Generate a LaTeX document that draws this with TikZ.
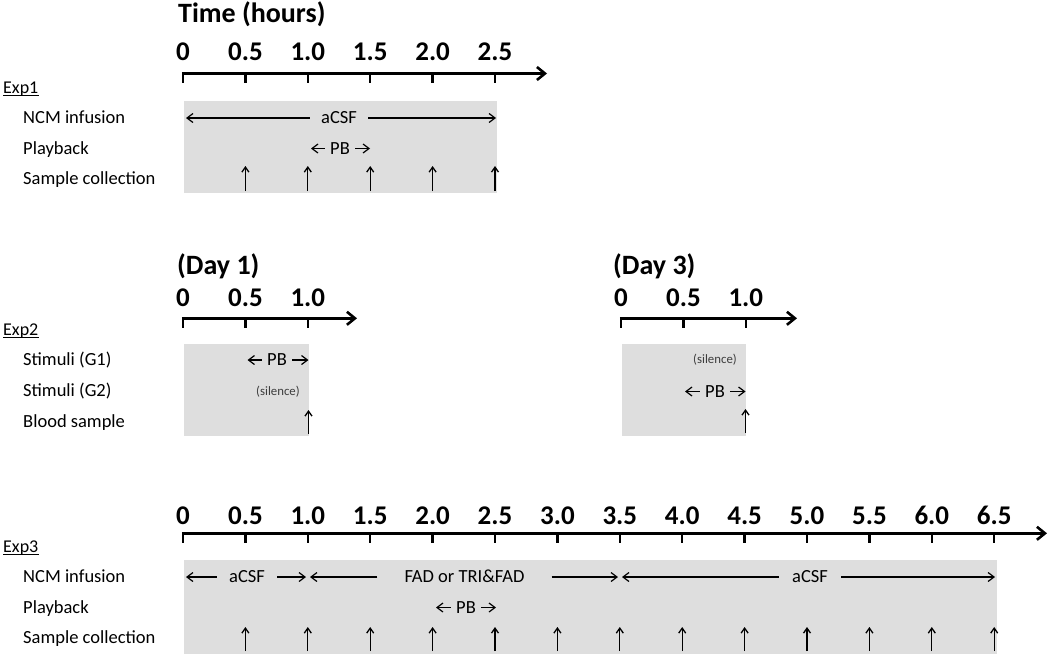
\documentclass[tikz,border=0pt]{standalone}
\usepackage{fontspec}
\setmainfont{Carlito}
\usetikzlibrary{arrows.meta}
\definecolor{boxgray}{RGB}{222,222,222}
\definecolor{silgray}{RGB}{60,60,60}
\tikzset{
  axisline/.style={line width=2.6pt, -{Straight Barb[length=8pt,width=13pt]}},
  tickline/.style={line width=2.4pt},
  thinarr/.style={line width=1.2pt, -{Straight Barb[length=6pt,width=9pt]}},
  samparr/.style={line width=1.3pt, -{Straight Barb[length=5pt,width=7pt]}},
  tbox/.style={fill=boxgray, draw=none, inner sep=0pt, anchor=north west},
  rowlbl/.style={font=\fontsize{18.5}{22}\selectfont, inner sep=0pt, text height=11.9pt, text depth=0pt, anchor=west},
  explbl/.style={font=\fontsize{18}{22}\selectfont, inner sep=0pt, text height=11.6pt, text depth=0pt, anchor=west},
  uline/.style={line width=0.9pt},
  num/.style={font=\fontsize{27}{31}\selectfont\bfseries, inner sep=0pt, text height=17.4pt, text depth=0pt},
  ttl/.style={font=\fontsize{28}{33}\selectfont\bfseries, inner sep=0pt, text height=18pt, text depth=0pt, anchor=west},
  intxt/.style={font=\fontsize{18.5}{22}\selectfont, inner ysep=0pt, text height=11.9pt, text depth=0pt},
  siltxt/.style={font=\fontsize{12.8}{15}\selectfont, text=silgray, inner sep=0pt}
}
\begin{document}
\begin{tikzpicture}[x=1pt,y=-1pt]
\useasboundingbox (0,0) rectangle (1050,656);

% ================= Exp1 =================
\node[ttl] (title) at (178,13.3) {Time (hours)};
\coordinate (e1o) at (181.8,73.5);
\coordinate (e1end) at (547,73.5);
\draw[axisline] (e1o) -- (e1end);
\foreach \t/\l [count=\k] in {0/0,0.5/0.5,1/1.0,1.5/1.5,2/2.0,2.5/2.5} {
  \coordinate (e1t\k) at ({183+124.8*\t},72.5);
  \coordinate (e1b\k) at ({183+124.8*\t},82.5);
  \draw[tickline] (e1t\k) -- (e1b\k);
  \node[num] (e1num\k) at ({183+124.8*\t},51.7) {\l};
}
\node[tbox, minimum width=313pt, minimum height=92pt] (e1box) at (184,101) {};
\node[explbl] (e1lab) at (3,87.5) {Exp1};
\draw[uline] ([yshift=-2.5pt]e1lab.base west) -- ([yshift=-2.5pt]e1lab.base east);
\node[rowlbl] (e1r1) at (23,118) {NCM infusion};
\node[rowlbl] (e1r2) at (23,148.5) {Playback};
\node[rowlbl] (e1r3) at (23,179) {Sample collection};
% NCM infusion
\node[intxt, inner xsep=11pt] (e1acsf) at (339,118) {aCSF};
\coordinate (e1n0) at (186,118);
\coordinate (e1n1) at (496,118);
\draw[thinarr] (e1acsf.west) -- (e1n0);
\draw[thinarr] (e1acsf.east) -- (e1n1);
% Playback
\node[intxt, inner xsep=5pt] (e1pb) at (340,148.5) {PB};
\coordinate (e1p0) at (311,148.5);
\coordinate (e1p1) at (370,148.5);
\draw[thinarr] (e1pb.west) -- (e1p0);
\draw[thinarr] (e1pb.east) -- (e1p1);
% Sample collection
\foreach \t [count=\k] in {0.5,1,1.5,2,2.5} {
  \coordinate (e1s\k) at ({183+124.8*\t},191);
  \coordinate (e1h\k) at ({183+124.8*\t},166);
  \draw[samparr] (e1s\k) -- (e1h\k);
}

% ================= Exp2 =================
\node[explbl] (e2lab) at (3,329.5) {Exp2};
\draw[uline] ([yshift=-2.5pt]e2lab.base west) -- ([yshift=-2.5pt]e2lab.base east);
\node[rowlbl] (e2r1) at (23,360) {Stimuli (G1)};
\node[rowlbl] (e2r2) at (23,391) {Stimuli (G2)};
\node[rowlbl] (e2r3) at (23,421.5) {Blood sample};
% Day 1
\node[ttl] (day1) at (177,265) {(Day 1)};
\coordinate (d1o) at (181.8,318.3);
\coordinate (d1end) at (357,318.3);
\draw[axisline] (d1o) -- (d1end);
\foreach \t/\l [count=\k] in {0/0,0.5/0.5,1/1.0} {
  \coordinate (d1t\k) at ({183+124.8*\t},317.3);
  \coordinate (d1b\k) at ({183+124.8*\t},327.5);
  \draw[tickline] (d1t\k) -- (d1b\k);
  \node[num] (d1num\k) at ({183+124.8*\t},297.5) {\l};
}
\node[tbox, minimum width=125pt, minimum height=92pt] (d1box) at (184,344) {};
\node[intxt, inner xsep=5pt] (d1pb) at (277,360) {PB};
\coordinate (d1p0) at (247.5,360);
\coordinate (d1p1) at (308.5,360);
\draw[thinarr] (d1pb.west) -- (d1p0);
\draw[thinarr] (d1pb.east) -- (d1p1);
\node[siltxt] (d1sil) at (278,391.5) {(silence)};
\coordinate (d1s) at (308.5,434);
\coordinate (d1h) at (308.5,410);
\draw[samparr] (d1s) -- (d1h);
% Day 3
\node[ttl] (day3) at (613,265.5) {(Day 3)};
\coordinate (d3o) at (619.8,318.3);
\coordinate (d3end) at (797,318.3);
\draw[axisline] (d3o) -- (d3end);
\foreach \t/\l [count=\k] in {0/0,0.5/0.5,1/1.0} {
  \coordinate (d3t\k) at ({621+124.8*\t},317.3);
  \coordinate (d3b\k) at ({621+124.8*\t},327.5);
  \draw[tickline] (d3t\k) -- (d3b\k);
  \node[num] (d3num\k) at ({621+124.8*\t},297.5) {\l};
}
\node[tbox, minimum width=124.5pt, minimum height=92pt] (d3box) at (621.5,344) {};
\node[siltxt] (d3sil) at (715,360) {(silence)};
\node[intxt, inner xsep=5pt] (d3pb) at (715,391.5) {PB};
\coordinate (d3p0) at (685,391.5);
\coordinate (d3p1) at (745.5,391.5);
\draw[thinarr] (d3pb.west) -- (d3p0);
\draw[thinarr] (d3pb.east) -- (d3p1);
\coordinate (d3s) at (745.5,433);
\coordinate (d3h) at (745.5,409);
\draw[samparr] (d3s) -- (d3h);

% ================= Exp3 =================
\coordinate (e3o) at (181.8,533.3);
\coordinate (e3end) at (1047,533.3);
\draw[axisline] (e3o) -- (e3end);
\foreach \t/\l [count=\k] in {0/0,0.5/0.5,1/1.0,1.5/1.5,2/2.0,2.5/2.5,3/3.0,3.5/3.5,4/4.0,4.5/4.5,5/5.0,5.5/5.5,6/6.0,6.5/6.5} {
  \coordinate (e3t\k) at ({183+124.8*\t},532.3);
  \coordinate (e3b\k) at ({183+124.8*\t},543);
  \draw[tickline] (e3t\k) -- (e3b\k);
  \node[num] (e3num\k) at ({183+124.8*\t},515.5) {\l};
}
\node[tbox, minimum width=812.5pt, minimum height=94pt] (e3box) at (184,560) {};
\node[explbl] (e3lab) at (3,546.5) {Exp3};
\draw[uline] ([yshift=-2.5pt]e3lab.base west) -- ([yshift=-2.5pt]e3lab.base east);
\node[rowlbl] (e3r1) at (23,577) {NCM infusion};
\node[rowlbl] (e3r2) at (23,607.5) {Playback};
\node[rowlbl] (e3r3) at (23,638) {Sample collection};
% NCM infusion
\node[intxt, inner xsep=12pt] (e3acsfA) at (247,577) {aCSF};
\coordinate (e3n0) at (186,577);
\coordinate (e3n1) at (306,577);
\draw[thinarr] (e3acsfA.west) -- (e3n0);
\draw[thinarr] (e3acsfA.east) -- (e3n1);
\node[intxt, inner xsep=27pt] (e3fad) at (464.5,577) {FAD or TRI\&FAD};
\coordinate (e3n2) at (310,577);
\coordinate (e3n3) at (618,577);
\draw[thinarr] (e3fad.west) -- (e3n2);
\draw[thinarr] (e3fad.east) -- (e3n3);
\node[intxt, inner xsep=13pt] (e3acsfB) at (810,577) {aCSF};
\coordinate (e3n4) at (622,577);
\coordinate (e3n5) at (995,577);
\draw[thinarr] (e3acsfB.west) -- (e3n4);
\draw[thinarr] (e3acsfB.east) -- (e3n5);
% Playback
\node[intxt, inner xsep=5pt] (e3pb) at (466,607.5) {PB};
\coordinate (e3p0) at (436,607.5);
\coordinate (e3p1) at (496,607.5);
\draw[thinarr] (e3pb.west) -- (e3p0);
\draw[thinarr] (e3pb.east) -- (e3p1);
% Sample collection
\foreach \t [count=\k] in {0.5,1,1.5,2,2.5,3,3.5,4,4.5,5,5.5,6,6.5} {
  \coordinate (e3s\k) at ({183+124.8*\t},651);
  \coordinate (e3h\k) at ({183+124.8*\t},627);
  \draw[samparr] (e3s\k) -- (e3h\k);
}
\end{tikzpicture}
\end{document}
